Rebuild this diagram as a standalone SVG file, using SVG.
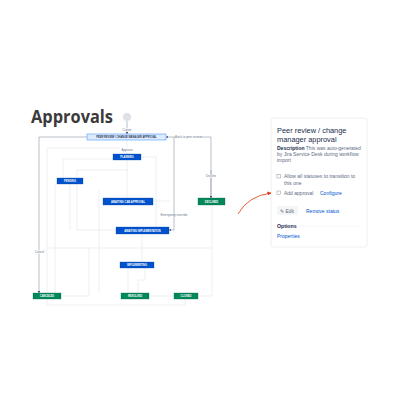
<svg xmlns="http://www.w3.org/2000/svg" width="400" height="400" viewBox="0 0 400 400">
<style>
.faint{fill:none;stroke:#e2e4e8;stroke-width:0.6}
.dark{fill:none;stroke:#8993a4;stroke-width:0.6}
.blue rect{fill:#0052cc;stroke:#0747a6;stroke-width:0.3}
.green rect{fill:#00875a;stroke:#006644;stroke-width:0.3}
.nt{font-family:"Liberation Sans",Arial,sans-serif;font-size:2.6px;font-weight:bold;fill:#fff;text-anchor:middle}
.lbl{font-family:"Liberation Sans",Arial,sans-serif;font-size:3px;fill:#6b778c;text-anchor:middle}
.pt{font-family:"Liberation Sans",Arial,sans-serif;fill:#172b4d}
.ps{font-family:"Liberation Sans",Arial,sans-serif;font-size:5px;fill:#5e6c84}
.lk{font-family:"Liberation Sans",Arial,sans-serif;font-size:5px;fill:#0052cc}
</style>
<defs>
<marker id="ah" viewBox="0 0 10 10" refX="9" refY="5" markerWidth="4" markerHeight="4" orient="auto-start-reverse"><path d="M0,0 L10,5 L0,10 z" fill="#42526e"/></marker>
<marker id="rh" viewBox="0 0 10 10" refX="9" refY="5" markerWidth="5" markerHeight="5" orient="auto"><path d="M0,0 L10,5 L0,10 z" fill="#de350b"/></marker>
</defs>
<rect width="400" height="400" fill="#fff"/>
<text x="31" y="123" font-family="'Open Sans','Liberation Sans',sans-serif" font-weight="bold" font-size="17" fill="#3b3b3b" textLength="82" lengthAdjust="spacingAndGlyphs">Approvals</text>

<g id="connectors">
<path class="faint" d="M63,178 V159 H113"/>
<path class="faint" d="M116,230 H77 V170 H128"/>
<path class="faint" d="M127,160 V198"/>
<path class="faint" d="M141,157 H156 V227"/>
<path class="faint" d="M47,293 V148 H120"/>
<path class="faint" d="M55,293 V184"/>
<path class="faint" d="M99,190 V293"/>
<path class="faint" d="M70,184 V230"/>
<path class="faint" d="M47,248 H212"/>
<path class="faint" d="M89,248 V296 H61"/>
<path class="faint" d="M47,299 V305 H185 V299"/>
<path class="faint" d="M212,205 V296 H198"/>
<path class="faint" d="M142,234 V262"/>
<path class="faint" d="M128,268 V293"/>
<path class="faint" d="M145,268 V280 H138 V293"/>
<path class="faint" d="M149,296 H174"/>
<path class="faint" d="M153,201 H170"/>
<path class="dark" d="M127,121 V134" marker-end="url(#ah)"/>
<path class="faint" d="M127,140 V154"/>
<path class="dark" d="M87,137 H39 V293" marker-end="url(#ah)"/>
<path class="dark" d="M211,198 V137 H166" marker-end="url(#ah)"/>
<path class="dark" d="M211,170 V198" marker-end="url(#ah)"/>
<path class="dark" d="M174,137 V230 H169" marker-end="url(#ah)"/>
<rect x="121" y="128.5" width="12" height="3" fill="#fff"/>
<text class="lbl" x="127" y="131">Create</text>
<rect x="120" y="148.5" width="14" height="3" fill="#fff"/>
<text class="lbl" x="127" y="151">Approve</text>
<rect x="176" y="135.5" width="25" height="3" fill="#fff"/>
<text class="lbl" x="188.5" y="138">Back to peer review</text>
<rect x="205" y="174.5" width="12" height="3" fill="#fff"/>
<text class="lbl" x="211" y="177">Decline</text>
<text class="lbl" x="174" y="216">Emergency override</text>
<rect x="34" y="250.5" width="11" height="3" fill="#fff"/>
<text class="lbl" x="39.5" y="253">Cancel</text>
</g>

<circle cx="127" cy="117" r="4" fill="#dfe1e6"/>

<g id="peer-review"><rect x="87" y="134" width="79" height="6" fill="#deebff" stroke="#4c9aff" stroke-width="0.6"/><text class="nt" x="126.5" y="138" style="fill:#253858">PEER REVIEW / CHANGE MANAGER APPROVAL</text></g>
<g id="planning" class="blue"><rect x="113" y="154" width="28" height="6"/><text class="nt" x="127" y="158">PLANNING</text></g>
<g id="pending" class="blue"><rect x="57" y="178" width="26" height="6"/><text class="nt" x="70" y="182">PENDING</text></g>
<g id="cab" class="blue"><rect x="103" y="198" width="50" height="7"/><text class="nt" x="128" y="202.5">AWAITING CAB APPROVAL</text></g>
<g id="impl-wait" class="blue"><rect x="116" y="227" width="53" height="7"/><text class="nt" x="142.5" y="231.5">AWAITING IMPLEMENTATION</text></g>
<g id="implementing" class="blue"><rect x="120" y="262" width="34" height="6"/><text class="nt" x="137" y="266">IMPLEMENTING</text></g>
<g id="declined" class="green"><rect x="198" y="198" width="27" height="7"/><text class="nt" x="211.5" y="202.5">DECLINED</text></g>
<g id="canceled" class="green"><rect x="33" y="293" width="28" height="6"/><text class="nt" x="47" y="297">CANCELED</text></g>
<g id="resolved" class="green"><rect x="121" y="293" width="28" height="6"/><text class="nt" x="135" y="297">RESOLVED</text></g>
<g id="closed" class="green"><rect x="174" y="293" width="24" height="6"/><text class="nt" x="186" y="297">CLOSED</text></g>

<g id="panel">
<rect x="271" y="118" width="96" height="129" rx="2" fill="#fff" stroke="#ebecf0" stroke-width="0.8"/>
<text class="pt" x="277" y="133" font-size="7.4">Peer review / change</text>
<text class="pt" x="277" y="141.5" font-size="7.4">manager approval</text>
<text class="ps" x="277" y="150"><tspan font-weight="bold" fill="#172b4d">Description</tspan> This was auto-generated</text>
<text class="ps" x="277" y="156">by Jira Service Desk during workflow</text>
<text class="ps" x="277" y="162">import</text>
<rect x="277" y="174.5" width="3.5" height="3.5" fill="#fff" stroke="#8993a4" stroke-width="0.5"/>
<text class="ps" x="284" y="178" fill="#42526e">Allow all statuses to transition to</text>
<text class="ps" x="284" y="185" fill="#42526e">this one</text>
<rect x="277" y="191" width="3.5" height="3.5" fill="#fff" stroke="#8993a4" stroke-width="0.5"/>
<text class="ps" x="284" y="194.5" fill="#42526e">Add approval</text>
<text class="lk" x="320" y="194.5">Configure</text>
<rect x="277" y="206" width="21" height="9" rx="1" fill="#f4f5f7"/>
<text class="ps" x="280" y="212.5" fill="#42526e">✎ Edit</text>
<text class="lk" x="306" y="212.5">Remove status</text>
<text class="pt" x="277" y="228" font-size="5.2" font-weight="bold" fill="#42526e">Options</text>
<line x1="300" y1="226" x2="361" y2="226" stroke="#ebecf0" stroke-width="0.5"/>
<text class="lk" x="277" y="238">Properties</text>
</g>
<path d="M238,214 Q248,196 271,193" fill="none" stroke="#de350b" stroke-width="0.8" marker-end="url(#rh)"/>
</svg>
